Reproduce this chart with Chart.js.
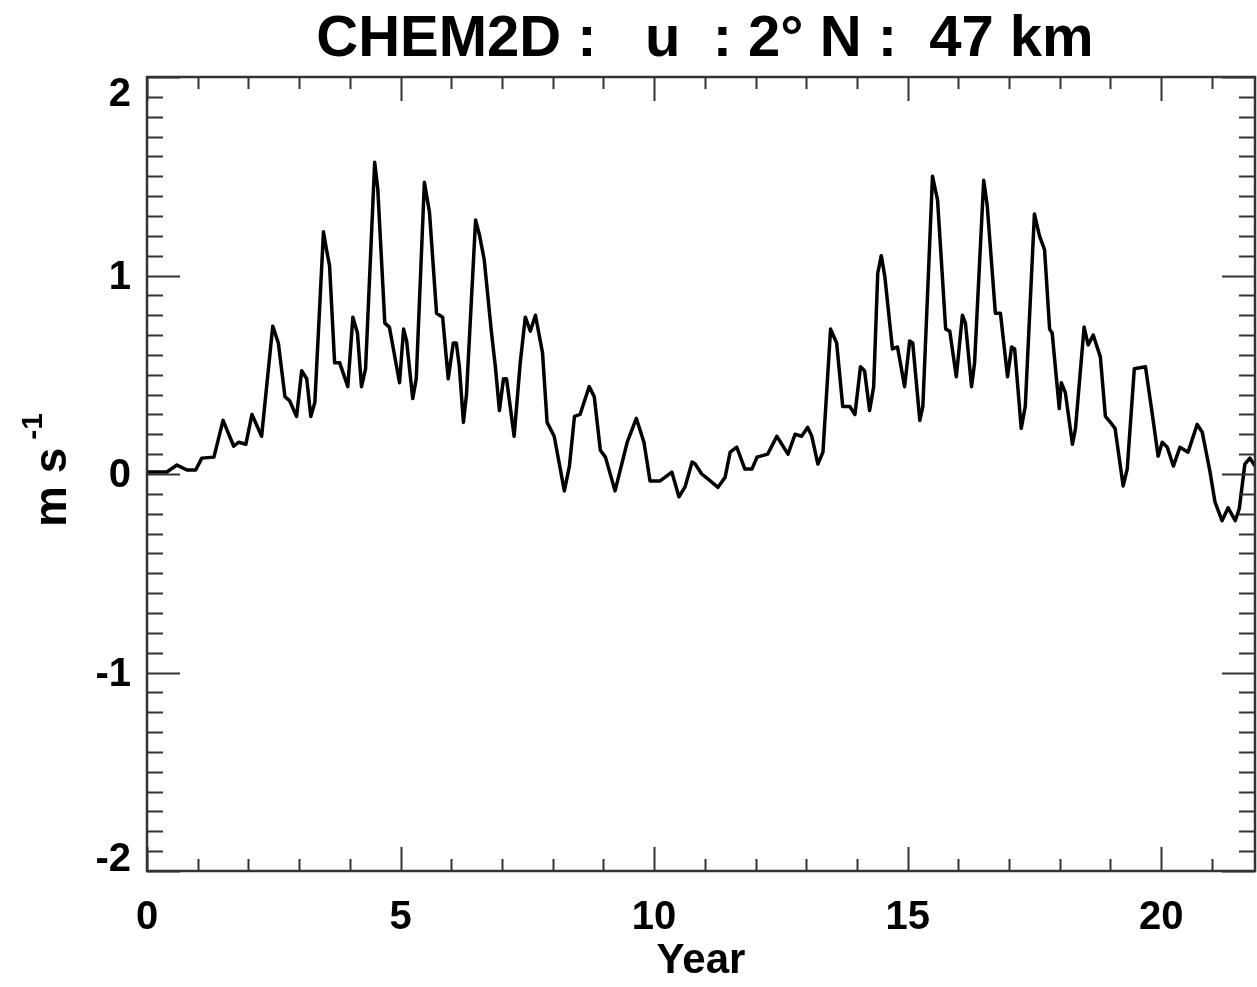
<!DOCTYPE html>
<html>
<head>
<meta charset="utf-8">
<script src="https://cdn.jsdelivr.net/npm/chart.js@4.4.1/dist/chart.umd.min.js"></script>
<style>
  html, body { margin: 0; padding: 0; background: #fff; }
  #wrap { width: 1257px; height: 987px; position: relative; }
</style>
</head>
<body>
<div id="wrap"><canvas id="uChart"></canvas></div>
<script>
// values (year, u in m/s)
const years = [
  0.00, 0.39, 0.59, 0.79, 0.96, 1.08, 1.32, 1.50, 1.71, 1.81,
  1.95, 2.07, 2.26, 2.48, 2.59, 2.72, 2.81, 2.95, 3.05, 3.15,
  3.23, 3.31, 3.48, 3.54, 3.60, 3.70, 3.80, 3.96, 4.06, 4.15,
  4.23, 4.31, 4.49, 4.55, 4.69, 4.78, 4.98, 5.06, 5.12, 5.24,
  5.31, 5.47, 5.57, 5.71, 5.83, 5.94, 6.04, 6.10, 6.16, 6.24,
  6.30, 6.48, 6.56, 6.65, 6.79, 6.87, 6.95, 7.03, 7.09, 7.24,
  7.36, 7.46, 7.56, 7.66, 7.80, 7.89, 8.03, 8.23, 8.33, 8.43,
  8.54, 8.72, 8.82, 8.94, 9.04, 9.23, 9.47, 9.65, 9.80, 9.92,
  10.12, 10.35, 10.49, 10.61, 10.75, 10.81, 10.94, 11.06, 11.26, 11.40,
  11.50, 11.63, 11.79, 11.93, 12.03, 12.24, 12.42, 12.64, 12.78, 12.91,
  13.03, 13.11, 13.23, 13.33, 13.48, 13.60, 13.72, 13.86, 13.96, 14.07,
  14.15, 14.25, 14.33, 14.41, 14.48, 14.55, 14.70, 14.80, 14.94, 15.04,
  15.10, 15.24, 15.30, 15.49, 15.59, 15.75, 15.83, 15.96, 16.08, 16.14,
  16.26, 16.32, 16.50, 16.57, 16.73, 16.83, 16.97, 17.05, 17.11, 17.24,
  17.32, 17.50, 17.60, 17.70, 17.80, 17.85, 17.99, 18.03, 18.11, 18.25,
  18.31, 18.48, 18.56, 18.66, 18.80, 18.90, 19.00, 19.09, 19.25, 19.33,
  19.47, 19.69, 19.82, 19.94, 20.02, 20.12, 20.24, 20.37, 20.53, 20.71,
  20.81, 20.96, 21.06, 21.20, 21.32, 21.46, 21.54, 21.65, 21.75, 21.85,
];
const uWind = [
  0.01, 0.01, 0.045, 0.02, 0.02, 0.08, 0.085, 0.27, 0.14, 0.16,
  0.15, 0.30, 0.19, 0.745, 0.66, 0.39, 0.37, 0.29, 0.52, 0.48,
  0.29, 0.36, 1.22, 1.13, 1.05, 0.56, 0.56, 0.44, 0.79, 0.71,
  0.44, 0.53, 1.57, 1.44, 0.76, 0.74, 0.46, 0.73, 0.67, 0.38,
  0.48, 1.47, 1.32, 0.81, 0.79, 0.48, 0.66, 0.66, 0.54, 0.26,
  0.40, 1.28, 1.20, 1.08, 0.72, 0.54, 0.32, 0.48, 0.48, 0.19,
  0.56, 0.79, 0.72, 0.80, 0.61, 0.26, 0.19, -0.085, 0.04, 0.29,
  0.30, 0.44, 0.39, 0.12, 0.085, -0.085, 0.16, 0.28, 0.16, -0.035,
  -0.035, 0.01, -0.115, -0.065, 0.06, 0.05, 0.0, -0.025, -0.067, -0.017,
  0.11, 0.135, 0.025, 0.025, 0.085, 0.10, 0.19, 0.10, 0.20, 0.19,
  0.235, 0.19, 0.05, 0.11, 0.73, 0.66, 0.34, 0.34, 0.30, 0.54,
  0.52, 0.32, 0.44, 1.01, 1.10, 0.995, 0.63, 0.64, 0.44, 0.67,
  0.66, 0.27, 0.34, 1.50, 1.38, 0.73, 0.72, 0.49, 0.80, 0.76,
  0.44, 0.56, 1.48, 1.35, 0.81, 0.81, 0.49, 0.64, 0.63, 0.23,
  0.34, 1.31, 1.20, 1.13, 0.73, 0.71, 0.33, 0.46, 0.41, 0.15,
  0.23, 0.74, 0.65, 0.70, 0.59, 0.29, 0.26, 0.23, -0.06, 0.025,
  0.53, 0.54, 0.31, 0.09, 0.16, 0.135, 0.04, 0.135, 0.11, 0.25,
  0.21, 0.015, -0.14, -0.235, -0.17, -0.235, -0.175, 0.05, 0.08, 0.04,
];

const xTicks = [0, 5, 10, 15, 20];
const yTicks = [-2, -1, 0, 1, 2];
const xRange = [0, 21.85];
const yRange = [-2, 2];
const titleText = "CHEM2D :   u  : 2° N :  47 km";

const FONT = '"Liberation Sans", Arial, Helvetica, sans-serif';

// IDL style frame: box, inward ticks on all four sides, y labels, title
const idlFrame = {
  id: "idlFrame",
  afterDraw(chart) {
    const { ctx, chartArea: a } = chart;
    const x = chart.scales.x;
    const y = chart.scales.y;
    ctx.save();

    ctx.fillStyle = "#000";
    ctx.font = `bold 58px ${FONT}`;
    ctx.textAlign = "center";
    ctx.textBaseline = "alphabetic";
    ctx.fillText(titleText, (a.left + a.right) / 2 + 4, 56);

    ctx.strokeStyle = "#333";
    ctx.lineWidth = 2.5;
    ctx.strokeRect(a.left, a.top, a.right - a.left, a.bottom - a.top);

    ctx.lineWidth = 2;
    ctx.beginPath();
    for (let v = 0; v <= xRange[1]; v += 1) {
      const px = Math.round(x.getPixelForValue(v)) + 0.5;
      const len = v % 5 === 0 ? 24 : 12;
      ctx.moveTo(px, a.bottom);
      ctx.lineTo(px, a.bottom - len);
      ctx.moveTo(px, a.top);
      ctx.lineTo(px, a.top + len);
    }
    for (let i = -20; i <= 20; i++) {
      const py = Math.round(y.getPixelForValue(i / 10)) + 0.5;
      const len = i % 10 === 0 ? 33 : 16;
      ctx.moveTo(a.left, py);
      ctx.lineTo(a.left + len, py);
      ctx.moveTo(a.right, py);
      ctx.lineTo(a.right - len, py);
    }
    ctx.stroke();

    // y tick labels (end labels sit inside the frame, as in the original)
    ctx.font = `bold 40px ${FONT}`;
    ctx.textAlign = "right";
    ctx.textBaseline = "middle";
    yTicks.forEach((v) => {
      let py = y.getPixelForValue(v);
      if (v === yRange[1]) py += 16;
      if (v === yRange[0]) py -= 13;
      ctx.fillText(String(v), a.left - 16, py + 2);
    });

    // y axis title with superscript
    ctx.translate(66, 527);
    ctx.rotate(-Math.PI / 2);
    ctx.textAlign = "left";
    ctx.textBaseline = "alphabetic";
    ctx.font = `bold 46px ${FONT}`;
    const main = "m s";
    ctx.fillText(main, 0, 0);
    const w = ctx.measureText(main).width;
    ctx.font = `bold 30px ${FONT}`;
    ctx.fillText("-1", w + 8, -24);

    ctx.restore();
  },
};

new Chart(document.getElementById("uChart"), {
  type: "line",
  data: {
    datasets: [
      {
        label: "u",
        data: years.map((t, i) => ({ x: t, y: uWind[i] })),
        borderColor: "#000",
        borderWidth: 3.5,
        borderJoinStyle: "round",
        pointRadius: 0,
        tension: 0,
        fill: false,
      },
    ],
  },
  options: {
    responsive: true,
    maintainAspectRatio: false,
    animation: false,
    layout: { padding: { top: 77, right: 2, left: 0, bottom: 0 } },
    plugins: {
      legend: { display: false },
      tooltip: { enabled: false },
    },
    scales: {
      x: {
        type: "linear",
        min: xRange[0],
        max: xRange[1],
        afterBuildTicks: (scale) => {
          scale.ticks = xTicks.map((v) => ({ value: v }));
        },
        afterFit: (scale) => {
          scale.height = 116;
        },
        grid: { display: false, drawTicks: false },
        border: { display: false },
        ticks: {
          color: "#000",
          padding: 23,
          maxRotation: 0,
          font: { family: FONT, size: 40, weight: "bold" },
        },
        title: {
          display: true,
          text: "Year",
          color: "#000",
          padding: { top: 0, bottom: 0 },
          font: { family: FONT, size: 42, weight: "bold" },
        },
      },
      y: {
        type: "linear",
        min: yRange[0],
        max: yRange[1],
        afterBuildTicks: (scale) => {
          scale.ticks = yTicks.map((v) => ({ value: v }));
        },
        afterFit: (scale) => {
          scale.width = 147;
        },
        grid: { display: false, drawTicks: false },
        border: { display: false },
        ticks: { display: false },
      },
    },
  },
  plugins: [idlFrame],
});
</script>
</body>
</html>
